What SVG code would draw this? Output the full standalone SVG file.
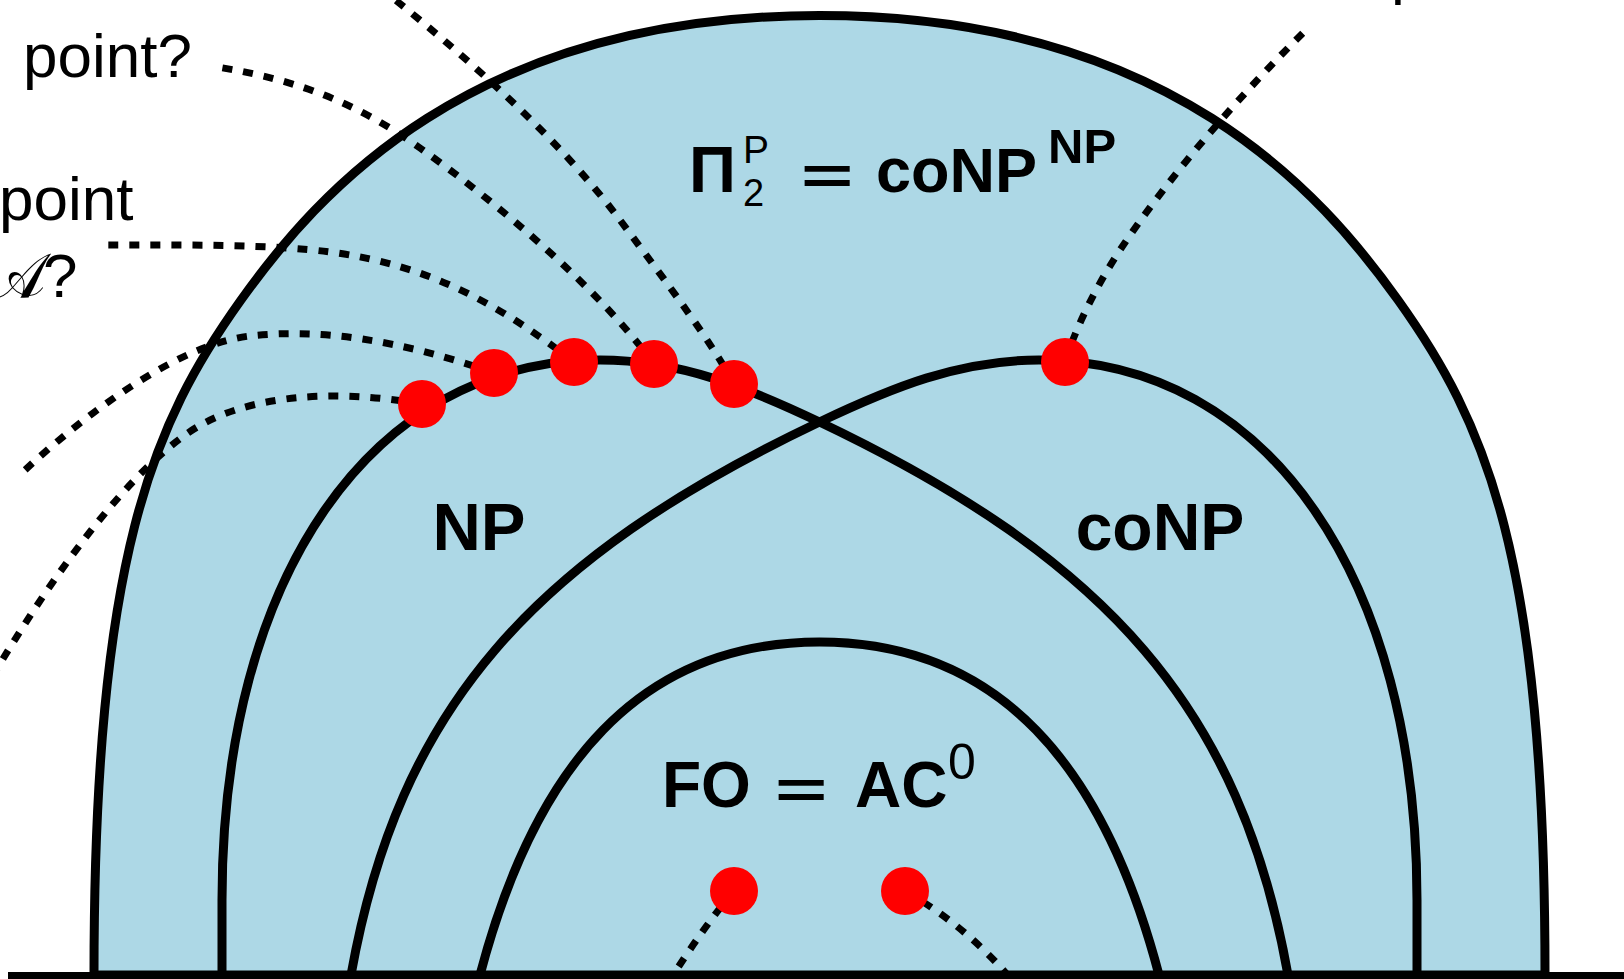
<svg xmlns="http://www.w3.org/2000/svg" xmlns:xlink="http://www.w3.org/1999/xlink" width="1624" height="979" viewBox="0 0 1624 979">
<style>
.outer{fill:#ADD8E6;stroke:#000;stroke-width:9;stroke-linejoin:round}
.region{fill:none;stroke:#000;stroke-width:9;stroke-linejoin:round}
.dash{fill:none;stroke:#000;stroke-width:7;stroke-dasharray:10 11}
.dot{fill:#FF0000}
.t{font-family:"Liberation Sans",Arial,sans-serif;fill:#000}
.b{font-weight:bold}
.eq{font-family:"DejaVu Sans",sans-serif;fill:#000}
.cal{font-family:"DejaVu Serif","DejaVu Sans","Noto Sans",serif;fill:#000}
</style>
<defs>
<path id="npCurve" d="M 222,975 L 222,900 C 222,580 370,360 600,360 C 680,360 747.3,387.6 819.5,422 C 1108.5,559.6 1240.4,709 1288,975"/>
</defs>

<g id="pi2p">
<path class="outer" d="M 94,975 C 94,555 153.7,422 241,300 C 316.7,194.3 469.5,15.5 819.5,15.5 C 1169.5,15.5 1322.3,194.3 1398,300 C 1485.3,422 1545,555 1545,975 Z"/>
<text class="t b" x="689" y="192" font-size="65">Π</text>
<text class="t" x="743" y="206" font-size="38">2</text>
<text class="t" x="743" y="163" font-size="39">P</text>
<text class="eq" x="797" y="198" font-size="72">=</text>
<text class="t b" x="876" y="192" font-size="63">coNP</text>
<text class="t b" x="1048" y="163" font-size="49">NP</text>
</g>

<g id="np">
<use xlink:href="#npCurve" class="region"/>
<text class="t b" x="479" y="550" font-size="67" text-anchor="middle">NP</text>
</g>

<g id="conp">
<use xlink:href="#npCurve" class="region" transform="matrix(-1,0,0,1,1639,0)"/>
<text class="t b" x="1160" y="550" font-size="66" text-anchor="middle">coNP</text>
</g>

<g id="fo">
<path class="region" d="M 480,975 C 535,766 639.5,642 819.5,642 C 999.5,642 1104,766 1159,975"/>
<text class="t b" x="662" y="807" font-size="64">FO</text>
<text class="eq" x="771" y="812" font-size="72">=</text>
<text class="t b" x="855" y="807" font-size="64">AC</text>
<text class="t" x="948" y="779" font-size="50">0</text>
</g>

<g id="connectors">
<path class="dash" d="M 422,404 C 330,388 240,395 185,435 C 120,482 50,580 -5,672"/>
<path class="dash" d="M 494,373 C 400,340 320,328 250,336 C 180,344 90,410 25,470"/>
<path class="dash" d="M 574,362 C 500,305 430,265 330,252 C 270,244 180,245 105,245"/>
<path class="dash" d="M 654,364 C 600,290 500,205 420,148 C 360,105 300,80 217,67"/>
<path class="dash" d="M 734,384 C 710,340 670,287 620,220 C 560,140 470,60 388,-6"/>
<path class="dash" d="M 1065,362 C 1075,330 1095,288 1120,250 C 1170,175 1240,95 1307,29"/>
<path class="dash" d="M 734,891 Q 705,925 670,980"/>
<path class="dash" d="M 905,891 Q 965,925 1012,980"/>
</g>

<g id="dot-np1"><circle class="dot" cx="422" cy="404" r="24"/></g>
<g id="dot-np2"><circle class="dot" cx="494" cy="373" r="24"/></g>
<g id="dot-np3"><circle class="dot" cx="574" cy="362" r="24"/></g>
<g id="dot-np4"><circle class="dot" cx="654" cy="364" r="24"/></g>
<g id="dot-np5"><circle class="dot" cx="734" cy="384" r="24"/></g>
<g id="dot-conp"><circle class="dot" cx="1065" cy="362" r="24"/></g>
<g id="dot-fo1"><circle class="dot" cx="734" cy="891" r="24"/></g>
<g id="dot-fo2"><circle class="dot" cx="905" cy="891" r="24"/></g>

<g id="baseline"><line x1="8" y1="976" x2="1624" y2="976" stroke="#000" stroke-width="8"/></g>

<g id="label-point-q"><text class="t" x="23" y="77" font-size="62">point?</text></g>
<g id="label-point-a">
<text class="t" x="-1" y="220" font-size="62">point</text>
<text class="cal" x="46" y="297" font-size="62" text-anchor="end">𝒜</text>
<text class="t" x="43" y="297" font-size="62">?</text>
</g>
<g id="label-topright"><text class="t" x="1391" y="-8" font-size="62">p</text></g>
</svg>
